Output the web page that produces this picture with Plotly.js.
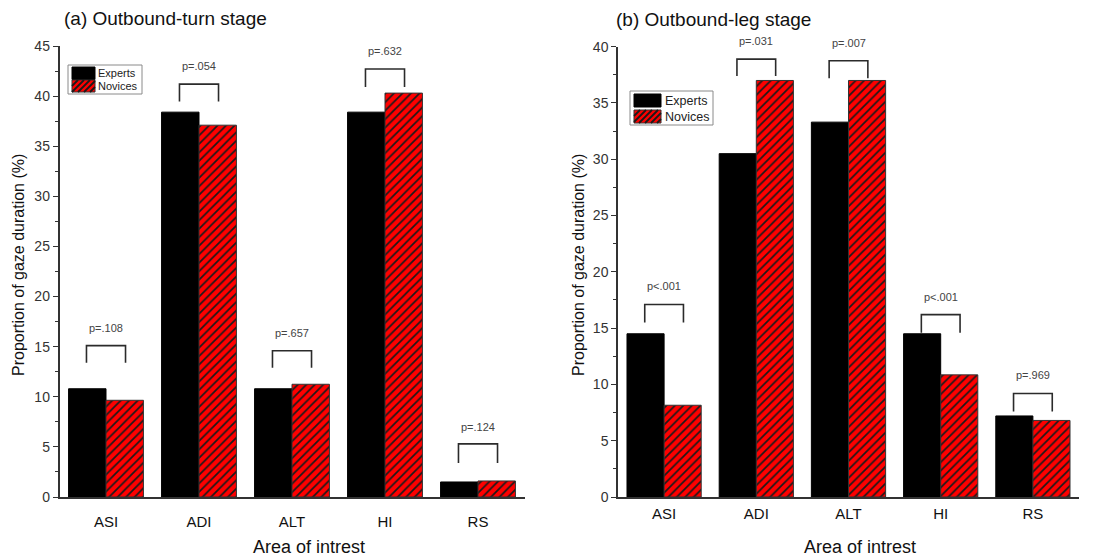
<!DOCTYPE html>
<html>
<head>
<meta charset="utf-8">
<script src="https://cdn.plot.ly/plotly-3.0.1.min.js"></script>
<style>html,body{margin:0;padding:0;background:#fff;}#chart{width:1104px;height:560px;}</style>
</head>
<body>
<div id="chart"></div>
<script>
// ---- data ----
const categories = ["ASI", "ADI", "ALT", "HI", "RS"];
const seriesNames = ["Experts", "Novices"];

// (a) Outbound-turn stage
const turnExperts = [10.8, 38.4, 10.8, 38.4, 1.5];
const turnNovices = [9.65, 37.1, 11.25, 40.3, 1.6];
const turnPValues = ["p=.108", "p=.054", "p=.657", "p=.632", "p=.124"];
const turnBracketTop = [15.1, 41.2, 14.6, 42.7, 5.3];
const turnBracketLeg = [13.4, 39.45, 12.9, 40.9, 3.4];
const turnLabelY = [16.9, 43.0, 16.4, 44.5, 7.0];

// (b) Outbound-leg stage
const legExperts = [14.5, 30.5, 33.3, 14.5, 7.2];
const legNovices = [8.15, 37.0, 37.0, 10.85, 6.8];
const legPValues = ["p<.001", "p=.031", "p=.007", "p<.001", "p=.969"];
const legBracketTop = [17.1, 38.9, 38.75, 16.2, 9.2];
const legBracketLeg = [15.5, 37.4, 37.2, 14.6, 7.6];
const legLabelY = [18.7, 40.5, 40.3, 17.8, 10.8];

// ---- layout helpers ----
const W = 1104, H = 560;
const FONT = "Liberation Sans, Arial, sans-serif";
const px = v => v / W;
const py = v => 1 - v / H;

const yDomA = [1 - 497 / H, 1 - 46 / H], yRangeA = [0, 45];
const yDomB = [1 - 497 / H, 1 - 46.7 / H], yRangeB = [0, 40];
const dataToPaper = (v, dom, rng) => dom[0] + (v - rng[0]) / (rng[1] - rng[0]) * (dom[1] - dom[0]);

const NOVICE_RED = "#ff0000";
function barTrace(y, name, xa, ya, novice) {
  return {
    type: "bar", x: categories, y: y, name: name,
    xaxis: xa, yaxis: ya, showlegend: false,
    marker: novice ? {
      color: NOVICE_RED,
      line: {color: "#333333", width: 1},
      pattern: {shape: "/", fgcolor: "#1a1a1a", bgcolor: NOVICE_RED, size: 6, solidity: 0.28}
    } : {color: "#000000", line: {color: "#000000", width: 1}},
    hoverinfo: "x+y+name"
  };
}

const traces = [
  barTrace(turnExperts, seriesNames[0], "x", "y", false),
  barTrace(turnNovices, seriesNames[1], "x", "y", true),
  barTrace(legExperts, seriesNames[0], "x2", "y2", false),
  barTrace(legNovices, seriesNames[1], "x2", "y2", true)
];

const shapes = [];
const annotations = [];
const off = 0.21;
function addBrackets(top, leg, labY, pv, xr, yr, xDom, yDom, yRng) {
  for (let i = 0; i < categories.length; i++) {
    shapes.push({
      type: "path", xref: xr, yref: yr,
      path: `M ${i - off},${leg[i]} L ${i - off},${top[i]} L ${i + off},${top[i]} L ${i + off},${leg[i]}`,
      line: {color: "#2b2b2b", width: 1.6}
    });
    annotations.push({
      xref: xr, yref: "paper", x: i, y: dataToPaper(labY[i], yDom, yRng), text: pv[i], showarrow: false,
      font: {family: FONT, size: 11, color: "#444444"}, yanchor: "middle"
    });
  }
}
addBrackets(turnBracketTop, turnBracketLeg, turnLabelY, turnPValues, "x", "y", null, yDomA, yRangeA);
addBrackets(legBracketTop, legBracketLeg, legLabelY, legPValues, "x2", "y2", null, yDomB, yRangeB);

// ---- hand-built legends (Origin style: wide swatches, compact rows) ----
function addLegend(bx0, by0, bx1, by1, sx0, sx1, rows, textX, fontSize) {
  shapes.push({type: "rect", xref: "paper", yref: "paper", x0: px(bx0), x1: px(bx1), y0: py(by0), y1: py(by1),
               line: {color: "#8a8a8a", width: 1}, fillcolor: "#ffffff", layer: "above"});
  rows.forEach((r, k) => {
    const novice = k === 1;
    shapes.push({type: "rect", xref: "paper", yref: "paper", x0: px(sx0), x1: px(sx1), y0: py(r[0]), y1: py(r[1]),
                 line: {color: novice ? "#333" : "#000", width: 1}, fillcolor: novice ? NOVICE_RED : "#000", layer: "above"});
    if (novice) {
      // diagonal hatch clipped to swatch
      const h = r[1] - r[0], step = 6;
      for (let s = sx0 - h; s < sx1; s += step) {
        let xa = s, ya = r[1], xb = s + h, yb = r[0];
        if (xa < sx0) { ya = r[1] - (sx0 - xa); xa = sx0; }
        if (xb > sx1) { yb = r[0] + (xb - sx1); xb = sx1; }
        if (xb <= xa) continue;
        shapes.push({type: "line", xref: "paper", yref: "paper", x0: px(xa), y0: py(ya), x1: px(xb), y1: py(yb),
                     line: {color: "#1a1a1a", width: 1.8}, layer: "above"});
      }
    }
    annotations.push({xref: "paper", yref: "paper", x: px(textX), y: py((r[0] + r[1]) / 2), xanchor: "left",
                      yanchor: "middle", text: seriesNames[k], showarrow: false,
                      font: {family: FONT, size: fontSize, color: "#222"}});
  });
}
addLegend(68, 65, 142, 94, 72, 95, [[67, 79.5], [80, 92]], 96, 11);
addLegend(630, 91, 713, 125, 634, 661, [[94, 107], [110, 123]], 663, 12.5);

// titles as annotations
annotations.push(
  {xref: "paper", yref: "paper", x: px(62), y: py(18), xanchor: "left", yanchor: "middle",
   text: "(a) Outbound-turn stage", showarrow: false, font: {family: FONT, size: 19, color: "#111"}},
  {xref: "paper", yref: "paper", x: px(614), y: py(20), xanchor: "left", yanchor: "middle",
   text: "(b) Outbound-leg stage", showarrow: false, font: {family: FONT, size: 19, color: "#111"}},
  {xref: "paper", yref: "paper", x: px(309), y: py(547), xanchor: "center", yanchor: "middle",
   text: "Area of intrest", showarrow: false, font: {family: FONT, size: 18, color: "#111"}},
  {xref: "paper", yref: "paper", x: px(860), y: py(547), xanchor: "center", yanchor: "middle",
   text: "Area of intrest", showarrow: false, font: {family: FONT, size: 18, color: "#111"}},
  {xref: "paper", yref: "paper", x: px(18), y: py(265), xanchor: "center", yanchor: "middle", textangle: -90,
   text: "Proportion of gaze duration (%)", showarrow: false, font: {family: FONT, size: 16, color: "#111"}},
  {xref: "paper", yref: "paper", x: px(578), y: py(265), xanchor: "center", yanchor: "middle", textangle: -90,
   text: "Proportion of gaze duration (%)", showarrow: false, font: {family: FONT, size: 16, color: "#111"}}
);

const xBase = {
  type: "category", range: [-0.5, 4.5], showline: true, linecolor: "#333", linewidth: 1.5,
  ticks: "", showgrid: false, zeroline: false, fixedrange: true,
  tickfont: {family: FONT, size: 15, color: "#111"}
};
const yBase = {
  showline: true, linecolor: "#333", linewidth: 1.5, ticks: "outside", ticklen: 5, tickwidth: 1.3,
  tickcolor: "#333", showgrid: false, zeroline: false, dtick: 5, fixedrange: true,
  minor: {dtick: 2.5, ticks: "outside", ticklen: 3, tickwidth: 1.1, tickcolor: "#333"},
  tickfont: {family: FONT, size: 14, color: "#333"}
};

const layout = {
  width: W, height: H,
  margin: {l: 0, r: 0, t: 0, b: 0},
  paper_bgcolor: "#fff", plot_bgcolor: "rgba(0,0,0,0)",
  barmode: "group", bargap: 0.195, bargroupgap: 0,
  xaxis: Object.assign({}, xBase, {domain: [px(59.5), px(524.5)], anchor: "y", ticklabelstandoff: 10}),
  yaxis: Object.assign({}, yBase, {domain: yDomA, range: yRangeA, anchor: "x"}),
  xaxis2: Object.assign({}, xBase, {domain: [px(618), px(1079)], anchor: "y2", ticklabelstandoff: 2}),
  yaxis2: Object.assign({}, yBase, {domain: yDomB, range: yRangeB, anchor: "x2"}),
  shapes: shapes,
  annotations: annotations,
  showlegend: false
};

Plotly.newPlot("chart", traces, layout, {displayModeBar: false});
</script>
</body>
</html>
